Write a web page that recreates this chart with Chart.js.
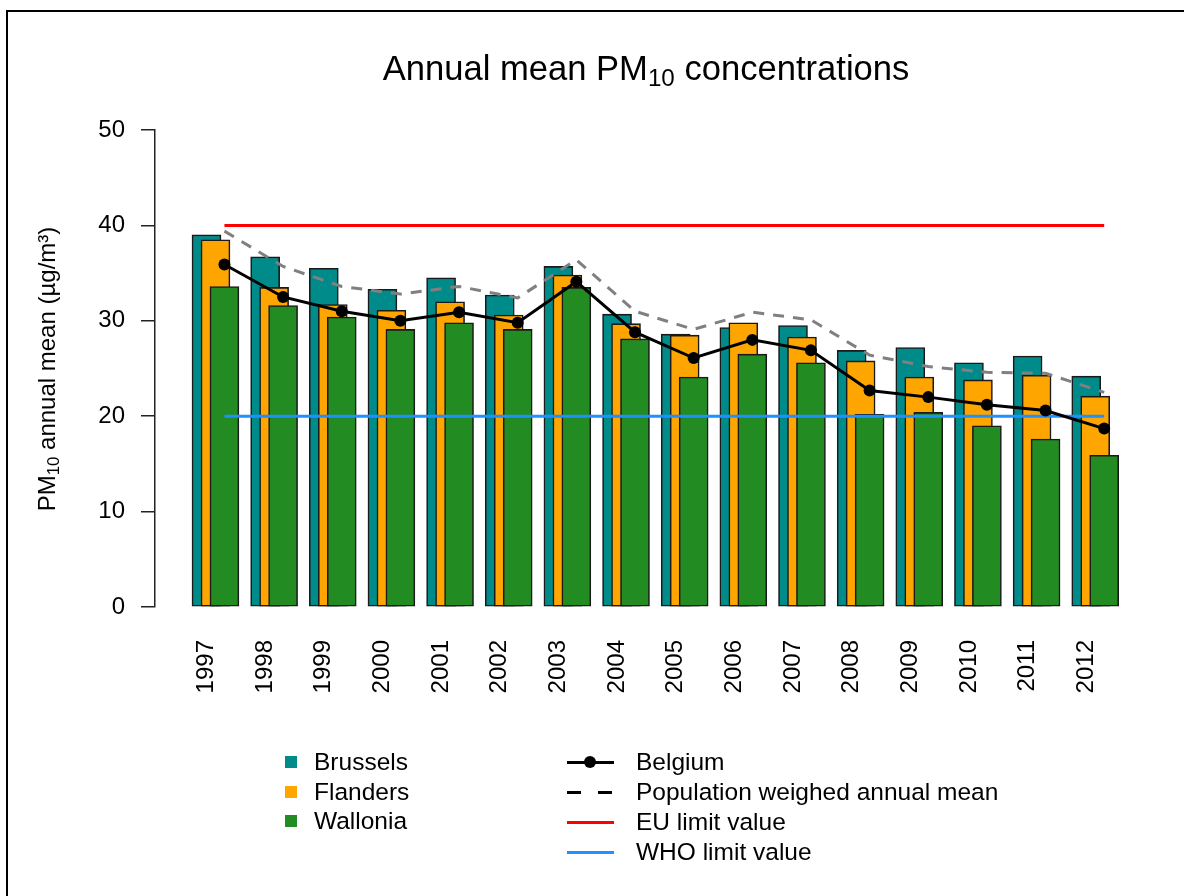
<!DOCTYPE html>
<html lang="en">
<head>
  <meta charset="UTF-8" />
  <title>Annual mean PM10 concentrations</title>
  <script src="https://cdn.jsdelivr.net/npm/chart.js"></script>
  <style>
    body { margin: 0; background: #fff; font-family: "Liberation Sans", Arial, sans-serif; color: #000; }
    #frame { position: absolute; left: 6px; top: 10px; width: 1300px; height: 1000px; border: 2px solid #000; }
    #grafico { position: absolute; left: 0; top: 0; }
    #titulo { position: absolute; left: 296px; top: 51px; width: 700px; text-align: center;
              font-size: 34.6px; line-height: 34px; white-space: nowrap; }
    #titulo sub, #ytitulo sub { font-size: 0.7em; vertical-align: -0.25em; line-height: 0; }
    #ytitulo { position: absolute; left: -153px; top: 354px; width: 400px; height: 30px; line-height: 30px;
               text-align: center; font-size: 24px; white-space: nowrap; transform: rotate(-90deg); }
    .leg { position: absolute; font-size: 24.5px; line-height: 30px; white-space: nowrap; }
    .sym { position: absolute; }
  </style>
</head>
<body>
  <div id="frame"></div>
  <canvas id="grafico" width="1184" height="896"></canvas>
  <div id="titulo">Annual mean PM<sub>10</sub> concentrations</div>
  <div id="ytitulo">PM<sub>10</sub> annual mean (µg/m³)</div>
  <div id="legenda"></div>

  <script>
    // dados
    const anos = [1997, 1998, 1999, 2000, 2001, 2002, 2003, 2004, 2005, 2006, 2007, 2008, 2009, 2010, 2011, 2012];
    const brussels = [39.0, 36.7, 35.5, 33.3, 34.5, 32.7, 35.7, 30.7, 28.6, 29.3, 29.5, 26.9, 27.2, 25.6, 26.3, 24.2];
    const flanders = [38.5, 33.5, 31.7, 31.1, 32.0, 30.6, 34.8, 29.7, 28.5, 29.8, 28.3, 25.8, 24.1, 23.8, 24.3, 22.1];
    const wallonia = [33.6, 31.6, 30.4, 29.1, 29.8, 29.1, 33.5, 28.1, 24.1, 26.5, 25.6, 20.2, 20.4, 19.0, 17.6, 15.9];
    const belgium = [35.9, 32.5, 31.0, 30.0, 30.9, 29.8, 34.1, 28.8, 26.1, 28.0, 26.9, 22.7, 22.0, 21.2, 20.6, 18.7];
    const mediaPop = [39.4, 35.7, 33.6, 32.8, 33.6, 32.4, 36.4, 31.0, 29.1, 30.9, 30.1, 26.4, 25.2, 24.6, 24.5, 22.5];
    const limiteUE = 40;
    const limiteOMS = 20;
    const ticksY = [0, 10, 20, 30, 40, 50];

    const desloc = 0.153; // deslocamento entre barras sobrepostas (em anos)
    const fonte = "'Liberation Sans', Arial, sans-serif";
    Chart.defaults.font.family = fonte;
    Chart.defaults.color = '#000';

    function pontos(valores, d) {
      return anos.map((a, i) => ({ x: a + d, y: valores[i] }));
    }
    function linhaLimite(v) {
      return [{ x: anos[0] + 2 * desloc, y: v }, { x: anos[anos.length - 1] + 2 * desloc, y: v }];
    }

    const barra = (label, valores, d, cor, ordem) => ({
      type: 'bar', label: label, data: pontos(valores, d),
      backgroundColor: cor, borderColor: '#1a1a1a', borderWidth: 1.6, borderSkipped: false,
      barThickness: 29, grouped: false, order: ordem
    });

    const ctx = document.getElementById('grafico').getContext('2d');
    const grafico = new Chart(ctx, {
      type: 'bar',
      data: {
        datasets: [
          barra('Brussels', brussels, 0, '#008B8B', 7),
          barra('Flanders', flanders, desloc, '#FFA500', 6),
          barra('Wallonia', wallonia, 2 * desloc, '#228B22', 5),
          { type: 'line', label: 'EU limit value', data: linhaLimite(limiteUE), borderColor: '#FF0000',
            borderWidth: 3, pointRadius: 0, order: 4 },
          { type: 'line', label: 'WHO limit value', data: linhaLimite(limiteOMS), borderColor: '#1E90FF',
            borderWidth: 3, pointRadius: 0, order: 3 },
          { type: 'line', label: 'Population weighed annual mean', data: pontos(mediaPop, 2 * desloc),
            borderColor: '#808080', borderWidth: 3, borderDash: [11, 9], pointRadius: 0, order: 2 },
          { type: 'line', label: 'Belgium', data: pontos(belgium, 2 * desloc), borderColor: '#000',
            borderWidth: 3, pointRadius: 6, pointBackgroundColor: '#000', pointBorderWidth: 0, order: 1 }
        ]
      },
      options: {
        responsive: false,
        animation: false,
        layout: { padding: { left: 10, top: 130, right: 54, bottom: 0 } },
        plugins: { legend: { display: false }, tooltip: { enabled: false } },
        scales: {
          x: {
            type: 'linear', min: 1996.122, max: 2012.746, offset: false,
            grid: { display: false, offset: false }, border: { display: false },
            afterBuildTicks: s => { s.ticks = anos.map(v => ({ value: v })); },
            afterFit: s => { s.height = 289; s.paddingLeft = 0; s.paddingRight = 0; },
            ticks: { autoSkip: false, minRotation: 90, maxRotation: 90, padding: 25,
                     font: { size: 24 }, color: '#000', callback: v => String(v) }
          },
          y: {
            min: 0, max: 50,
            afterBuildTicks: s => { s.ticks = ticksY.map(v => ({ value: v })); },
            afterFit: s => { s.width = 145; },
            grid: { drawOnChartArea: false, drawTicks: true, tickLength: 14, color: '#222', lineWidth: 1.5 },
            border: { display: true, color: '#222', width: 1.5 },
            ticks: { padding: 16, font: { size: 24 }, color: '#000' }
          }
        }
      }
    });

    // legenda em HTML, montada a partir dos datasets
    const legenda = document.getElementById('legenda');
    const ds = grafico.data.datasets;
    function item(x, y, texto) {
      const d = document.createElement('div');
      d.className = 'leg';
      d.style.left = x + 'px';
      d.style.top = (y - 15) + 'px';
      d.textContent = texto;
      legenda.appendChild(d);
    }
    function caixa(x, y, w, h, cor, raio) {
      const d = document.createElement('div');
      d.className = 'sym';
      d.style.left = x + 'px'; d.style.top = y + 'px';
      d.style.width = w + 'px'; d.style.height = h + 'px';
      d.style.background = cor;
      if (raio) d.style.borderRadius = '50%';
      legenda.appendChild(d);
    }
    [0, 1, 2].forEach((k, i) => {
      const y = 762 + i * 29.7;
      caixa(285, y - 6, 12, 12, ds[k].backgroundColor);
      item(314, y, ds[k].label);
    });
    [6, 5, 3, 4].forEach((k, i) => {
      const y = 762 + i * 30;
      const cor = k === 5 ? '#000' : ds[k].borderColor;
      if (ds[k].borderDash) {
        caixa(567, y - 1.5, 14, 3, cor);
        caixa(598, y - 1.5, 14, 3, cor);
      } else {
        caixa(567, y - 1.5, 47, 3, cor);
      }
      if (ds[k].pointRadius) caixa(584, y - 6, 12, 12, cor, true);
      item(636, y, ds[k].label);
    });
  </script>
</body>
</html>
